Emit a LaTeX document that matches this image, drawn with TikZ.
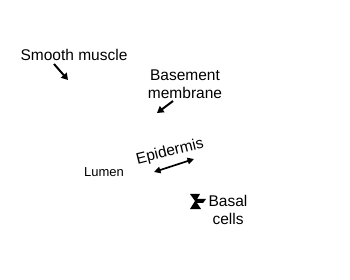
\documentclass[tikz,border=0pt]{standalone}
\usepackage{fontspec}
\setmainfont{Liberation Sans}
\usetikzlibrary{arrows.meta}
\begin{document}
\begin{tikzpicture}[x=1pt,y=-1pt,
  lbl/.style={inner sep=0pt,font=\fontsize{15.5}{18.5}\selectfont,align=center},
  small/.style={inner sep=0pt,font=\fontsize{13}{16}\selectfont},
  pointer/.style={line width=2pt,-{Triangle[length=6.5pt,width=7.5pt]}},
  dpointer/.style={line width=1.7pt,{Triangle[length=6.5pt,width=6.5pt]}-{Triangle[length=6.5pt,width=6.5pt]}}]
\useasboundingbox (0,0) rectangle (350,280);
\node[lbl] (sm) at (74,55) {Smooth muscle};
\coordinate (smtip) at (68,80);
\draw[pointer] (54,64) -- (smtip);
\node[lbl] (bm) at (185,84) {Basement\\membrane};
\coordinate (bmtip) at (157,113);
\draw[pointer] (173,101) -- (bmtip);
\node[small] (lu) at (104,172) {Lumen};
\node[lbl,rotate=14] (ep) at (170,152) {Epidermis};
\coordinate (epa) at (154,172);
\coordinate (epb) at (194,159);
\draw[dpointer] (epa) -- (epb);
\node[lbl] (bc) at (228,210) {Basal\\cells};
\fill (190,194) -- (200,194) -- (197,199) -- (206,199) -- (203,203) -- (197,203) -- (201,209) -- (190,209) -- (195,201) -- cycle;
\end{tikzpicture}
\end{document}
